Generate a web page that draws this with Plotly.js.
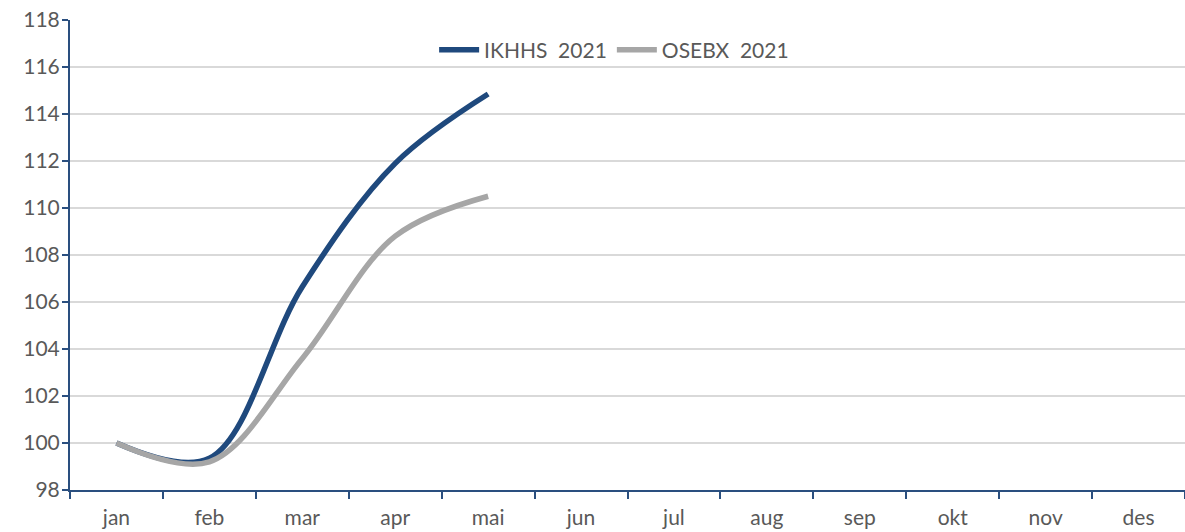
<!DOCTYPE html>
<html>
<head>
<meta charset="utf-8">
<script src="https://cdn.plot.ly/plotly-3.0.1.min.js"></script>
<style>html,body{margin:0;padding:0;background:#fff;}#chart{width:1185px;height:532px;}</style>
</head>
<body>
<div id="chart"></div>
<script>
const months = ["jan","feb","mar","apr","mai","jun","jul","aug","sep","okt","nov","des"];
const ikhhsMonths = ["jan","feb","mar","apr","mai"];
const ikhhs2021 = [100, 99.35, 106.65, 111.9, 114.85];
const osebx2021 = [100, 99.2, 103.6, 108.8, 110.5];
const yTicks = [98,100,102,104,106,108,110,112,114,116,118];

const axisBlue = "#2a4f7f";
const traces = [
  {x: ikhhsMonths, y: ikhhs2021, name: "IKHHS  2021", type: "scatter", mode: "lines",
   line: {color: "#1f497d", width: 5.5, shape: "spline", smoothing: 1.0}},
  {x: ikhhsMonths, y: osebx2021, name: "OSEBX  2021", type: "scatter", mode: "lines",
   line: {color: "#a6a6a6", width: 5.5, shape: "spline", smoothing: 1.0}}
];
const layout = {
  width: 1185, height: 532,
  margin: {l: 70, r: 0, t: 20, b: 42},
  paper_bgcolor: "#fff", plot_bgcolor: "#fff",
  font: {family: "Lato, 'Open Sans', sans-serif", size: 21, color: "#595959"},
  showlegend: true,
  legend: {orientation: "h", x: 0.488, xanchor: "center", y: 0.936, yanchor: "middle",
           bgcolor: "rgba(0,0,0,0)", font: {size: 21, color: "#595959"}, itemwidth: 40},
  xaxis: {type: "category", categoryorder: "array", categoryarray: months,
          range: [-0.5, 11.5], tickson: "boundaries", ticks: "outside", ticklen: 7,
          tickwidth: 2, tickcolor: axisBlue, showline: true, linecolor: axisBlue, linewidth: 2,
          showgrid: false, zeroline: false, ticklabelstandoff: 8},
  yaxis: {range: [98, 118], tickvals: yTicks, ticks: "outside", ticklen: 6, tickwidth: 2,
          tickcolor: axisBlue, showline: true, linecolor: axisBlue, linewidth: 2,
          showgrid: true, gridcolor: "#d9d9d9", gridwidth: 2, zeroline: false, ticklabelstandoff: -2}
};
Plotly.newPlot("chart", traces, layout, {staticPlot: true, displayModeBar: false});
</script>
</body>
</html>
